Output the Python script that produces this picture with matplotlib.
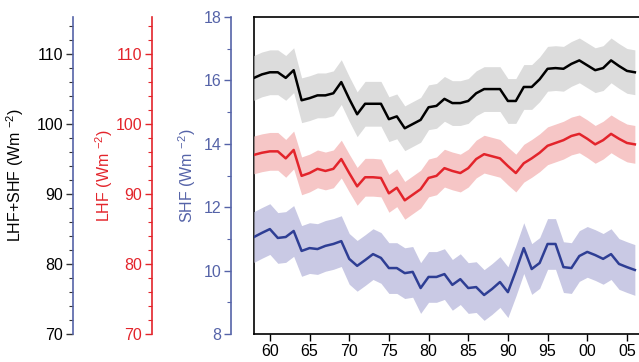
import numpy as np
import matplotlib.pyplot as plt
from matplotlib.ticker import MultipleLocator

plt.rcParams['font.family'] = ['Liberation Sans', 'DejaVu Sans']
plt.rcParams['mathtext.fontset'] = 'custom'
plt.rcParams['mathtext.rm'] = 'Liberation Sans'
plt.rcParams['mathtext.it'] = 'Liberation Sans'

# years 1958-2006
years = np.arange(1958, 2007)

# LHF+SHF (Wm-2)
tot = [106.6, 107.1, 107.4, 107.4, 106.6, 107.7, 103.4, 103.7, 104.1, 104.1,
       104.4, 106.0, 103.6, 101.4, 102.9, 102.9, 102.9, 100.7, 101.1, 99.4,
       100.0, 100.6, 102.4, 102.6, 103.6, 103.0, 103.0, 103.3, 104.4, 105.0,
       105.0, 105.0, 103.3, 103.3, 105.3, 105.3, 106.4, 107.9, 108.0, 107.9,
       108.6, 109.1, 108.4, 107.7, 108.0, 109.1, 108.3, 107.6, 107.4]

# LHF (Wm-2)
lhf = [95.6, 95.9, 96.1, 96.1, 95.1, 96.3, 92.6, 93.0, 93.6, 93.3,
       93.6, 95.0, 93.0, 91.1, 92.4, 92.4, 92.3, 90.1, 90.9, 89.1,
       89.9, 90.7, 92.3, 92.6, 93.7, 93.3, 93.0, 93.7, 95.0, 95.7,
       95.4, 95.1, 94.0, 93.0, 94.4, 95.1, 95.9, 96.9, 97.3, 97.7,
       98.3, 98.6, 97.9, 97.1, 97.7, 98.6, 97.9, 97.3, 97.1]

# SHF (Wm-2)
shf = [11.06, 11.19, 11.31, 11.03, 11.06, 11.25, 10.62, 10.71, 10.68, 10.78,
       10.84, 10.93, 10.37, 10.15, 10.33, 10.52, 10.40, 10.08, 10.08, 9.92,
       9.96, 9.45, 9.80, 9.80, 9.89, 9.55, 9.73, 9.45, 9.48, 9.23,
       9.42, 9.64, 9.32, 9.99, 10.71, 10.05, 10.24, 10.84, 10.84, 10.11,
       10.08, 10.46, 10.59, 10.49, 10.37, 10.52, 10.21, 10.11, 10.02]

# half-width of the shaded uncertainty bands
tot_err = 3.2
lhf_err = 2.7
shf_err = 0.8

xticks = [1960, 1965, 1970, 1975, 1980, 1985, 1990, 1995, 2000, 2005]
xlabels = ['60', '65', '70', '75', '80', '85', '90', '95', '00', '05']

black = '#000000'
red = '#e3242b'
blue = '#2e3e94'
axblue = '#5563a8'

W, H = 639, 362
fig = plt.figure(figsize=(W / 100, H / 100), dpi=100)
rect = [254 / W, 1 - 334 / H, (642 - 254) / W, 317 / H]

# main frame
ax = fig.add_axes(rect)
ax.set_xlim(1958, 2006.9)
ax.set_ylim(0, 1)
for s in ['left', 'top', 'bottom']:
    ax.spines[s].set_linewidth(1.2)
ax.spines['right'].set_visible(False)
ax.set_yticks([])
ax.set_xticks(xticks)
ax.set_xticklabels(xlabels, fontsize=11.5)
ax.tick_params(axis='x', direction='out', length=5, width=1, pad=2)


def side_axis(xpix, ylim, major, minor, spine_col, tick_col, label_col, label, label_x):
    a = fig.add_axes(rect, sharex=ax)
    a.patch.set_visible(False)
    for s in ['right', 'top', 'bottom']:
        a.spines[s].set_visible(False)
    a.spines['left'].set_position(('axes', (xpix - 254) / (642 - 254)))
    a.spines['left'].set_color(spine_col)
    a.spines['left'].set_linewidth(1.2)
    a.set_ylim(*ylim)
    a.yaxis.set_major_locator(MultipleLocator(major))
    a.yaxis.set_minor_locator(MultipleLocator(minor))
    a.tick_params(axis='x', bottom=False, labelbottom=False)
    a.tick_params(axis='y', which='major', direction='out', length=5, width=1,
                  colors=tick_col, labelcolor=label_col, labelsize=11.5, pad=2)
    a.tick_params(axis='y', which='minor', direction='out', length=3, width=0.8,
                  colors=tick_col)
    a.set_ylabel(label, color=label_col, fontsize=11.5)
    a.yaxis.set_label_coords((label_x - 254) / (642 - 254), 0.5)
    return a


ax_shf = side_axis(231, (8, 18), 2, 1, axblue, axblue, axblue,
                   r'SHF (Wm $^{-2}$)', 198)
ax_lhf = side_axis(152, (70, 115.3), 10, 2, red, red, red,
                   r'LHF (Wm $^{-2}$)', 115)
ax_tot = side_axis(73, (70, 115.3), 10, 2, axblue, '#333333', black,
                   r'LHF+SHF (Wm $^{-2}$)', 26)

shf_a = np.array(shf)
lhf_a = np.array(lhf)
tot_a = np.array(tot)

ax_shf.fill_between(years, shf_a - shf_err, shf_a + shf_err, color='#c9c9e4', lw=0)
ax_lhf.fill_between(years, lhf_a - lhf_err, lhf_a + lhf_err, color='#f6c6c6', lw=0)
ax_tot.fill_between(years, tot_a - tot_err, tot_a + tot_err, color='#dcdcdc', lw=0)
ax_shf.plot(years, shf, color=blue, lw=1.8)
ax_lhf.plot(years, lhf, color=red, lw=1.8)
ax_tot.plot(years, tot, color=black, lw=1.8)

fig.savefig('out.png', dpi=100)
